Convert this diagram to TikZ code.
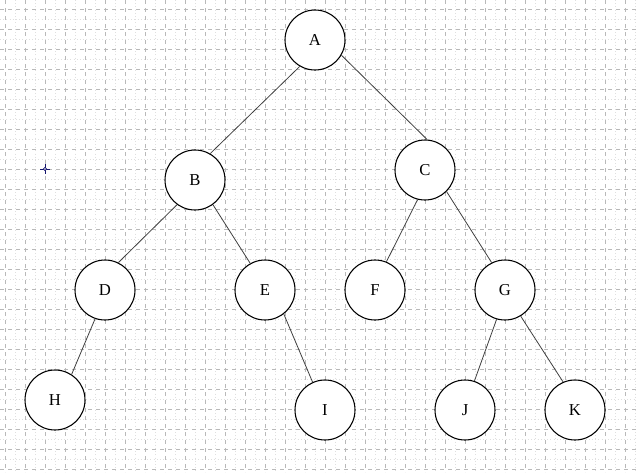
\documentclass[tikz,border=0pt]{standalone}
\usepackage{fontspec}
\setmainfont{Liberation Serif}
\definecolor{navy}{RGB}{20,20,110}
\begin{document}
\begin{tikzpicture}[
	x=0.75pt, y=-0.75pt,
	vertex/.style={
		draw, circle, line width=0.8pt, fill=white,
		minimum size=45pt, inner sep=0pt,
		font=\fontsize{12.5}{15}\selectfont
	},
	edge/.style={line width=0.6pt, draw=black!75},
	major/.style={gray!55, dashed, line width=0.5pt},
	minor/.style={gray!25, dotted, line width=0.4pt},
	]
	
	\useasboundingbox (0,0) rectangle (636,472);
	\fill[white] (0,0) rectangle (636,472);
	
	% background grid
	\foreach \x in {15,35,...,635} \draw[minor] (\x,0) -- (\x,472);
	\foreach \y in {19,39,...,471} \draw[minor] (0,\y) -- (636,\y);
	\foreach \x in {5,25,...,625} \draw[major] (\x,0) -- (\x,472);
	\foreach \y in {9,29,...,469} \draw[major] (0,\y) -- (636,\y);
	
	% marker
	\draw[navy, line width=0.6pt] (40,169) -- (50,169) (45,164) -- (45,174);
	\draw[navy, line width=0.6pt, fill=white] (45,169) circle (1.6);
	
	\node[vertex] (A) at (315, 40)  {A};
	\node[vertex] (B) at (195, 180) {B};
	\node[vertex] (C) at (425, 170) {C};
	\node[vertex] (D) at (105, 290) {D};
	\node[vertex] (E) at (265, 290) {E};
	\node[vertex] (F) at (375, 290) {F};
	\node[vertex] (G) at (505, 290) {G};
	\node[vertex] (H) at (55, 400)  {H};
	\node[vertex] (I) at (325, 410) {I};
	\node[vertex] (J) at (465, 410) {J};
	\node[vertex] (K) at (575, 410) {K};
	
	% edges leave and enter at fixed points on the circles
	\draw[edge] (A.240) -- (B.60);
	\draw[edge] (A.330) -- (C.86);
	\draw[edge] (B.234) -- (D.64);
	\draw[edge] (B.306) -- (E.119);
	\draw[edge] (C.256) -- (F.68);
	\draw[edge] (C.315) -- (G.116);
	\draw[edge] (D.251) -- (H.57);
	\draw[edge] (E.308) -- (I.114);
	\draw[edge] (G.254) -- (J.72);
	\draw[edge] (G.301) -- (K.113);
	
\end{tikzpicture}
\end{document}
